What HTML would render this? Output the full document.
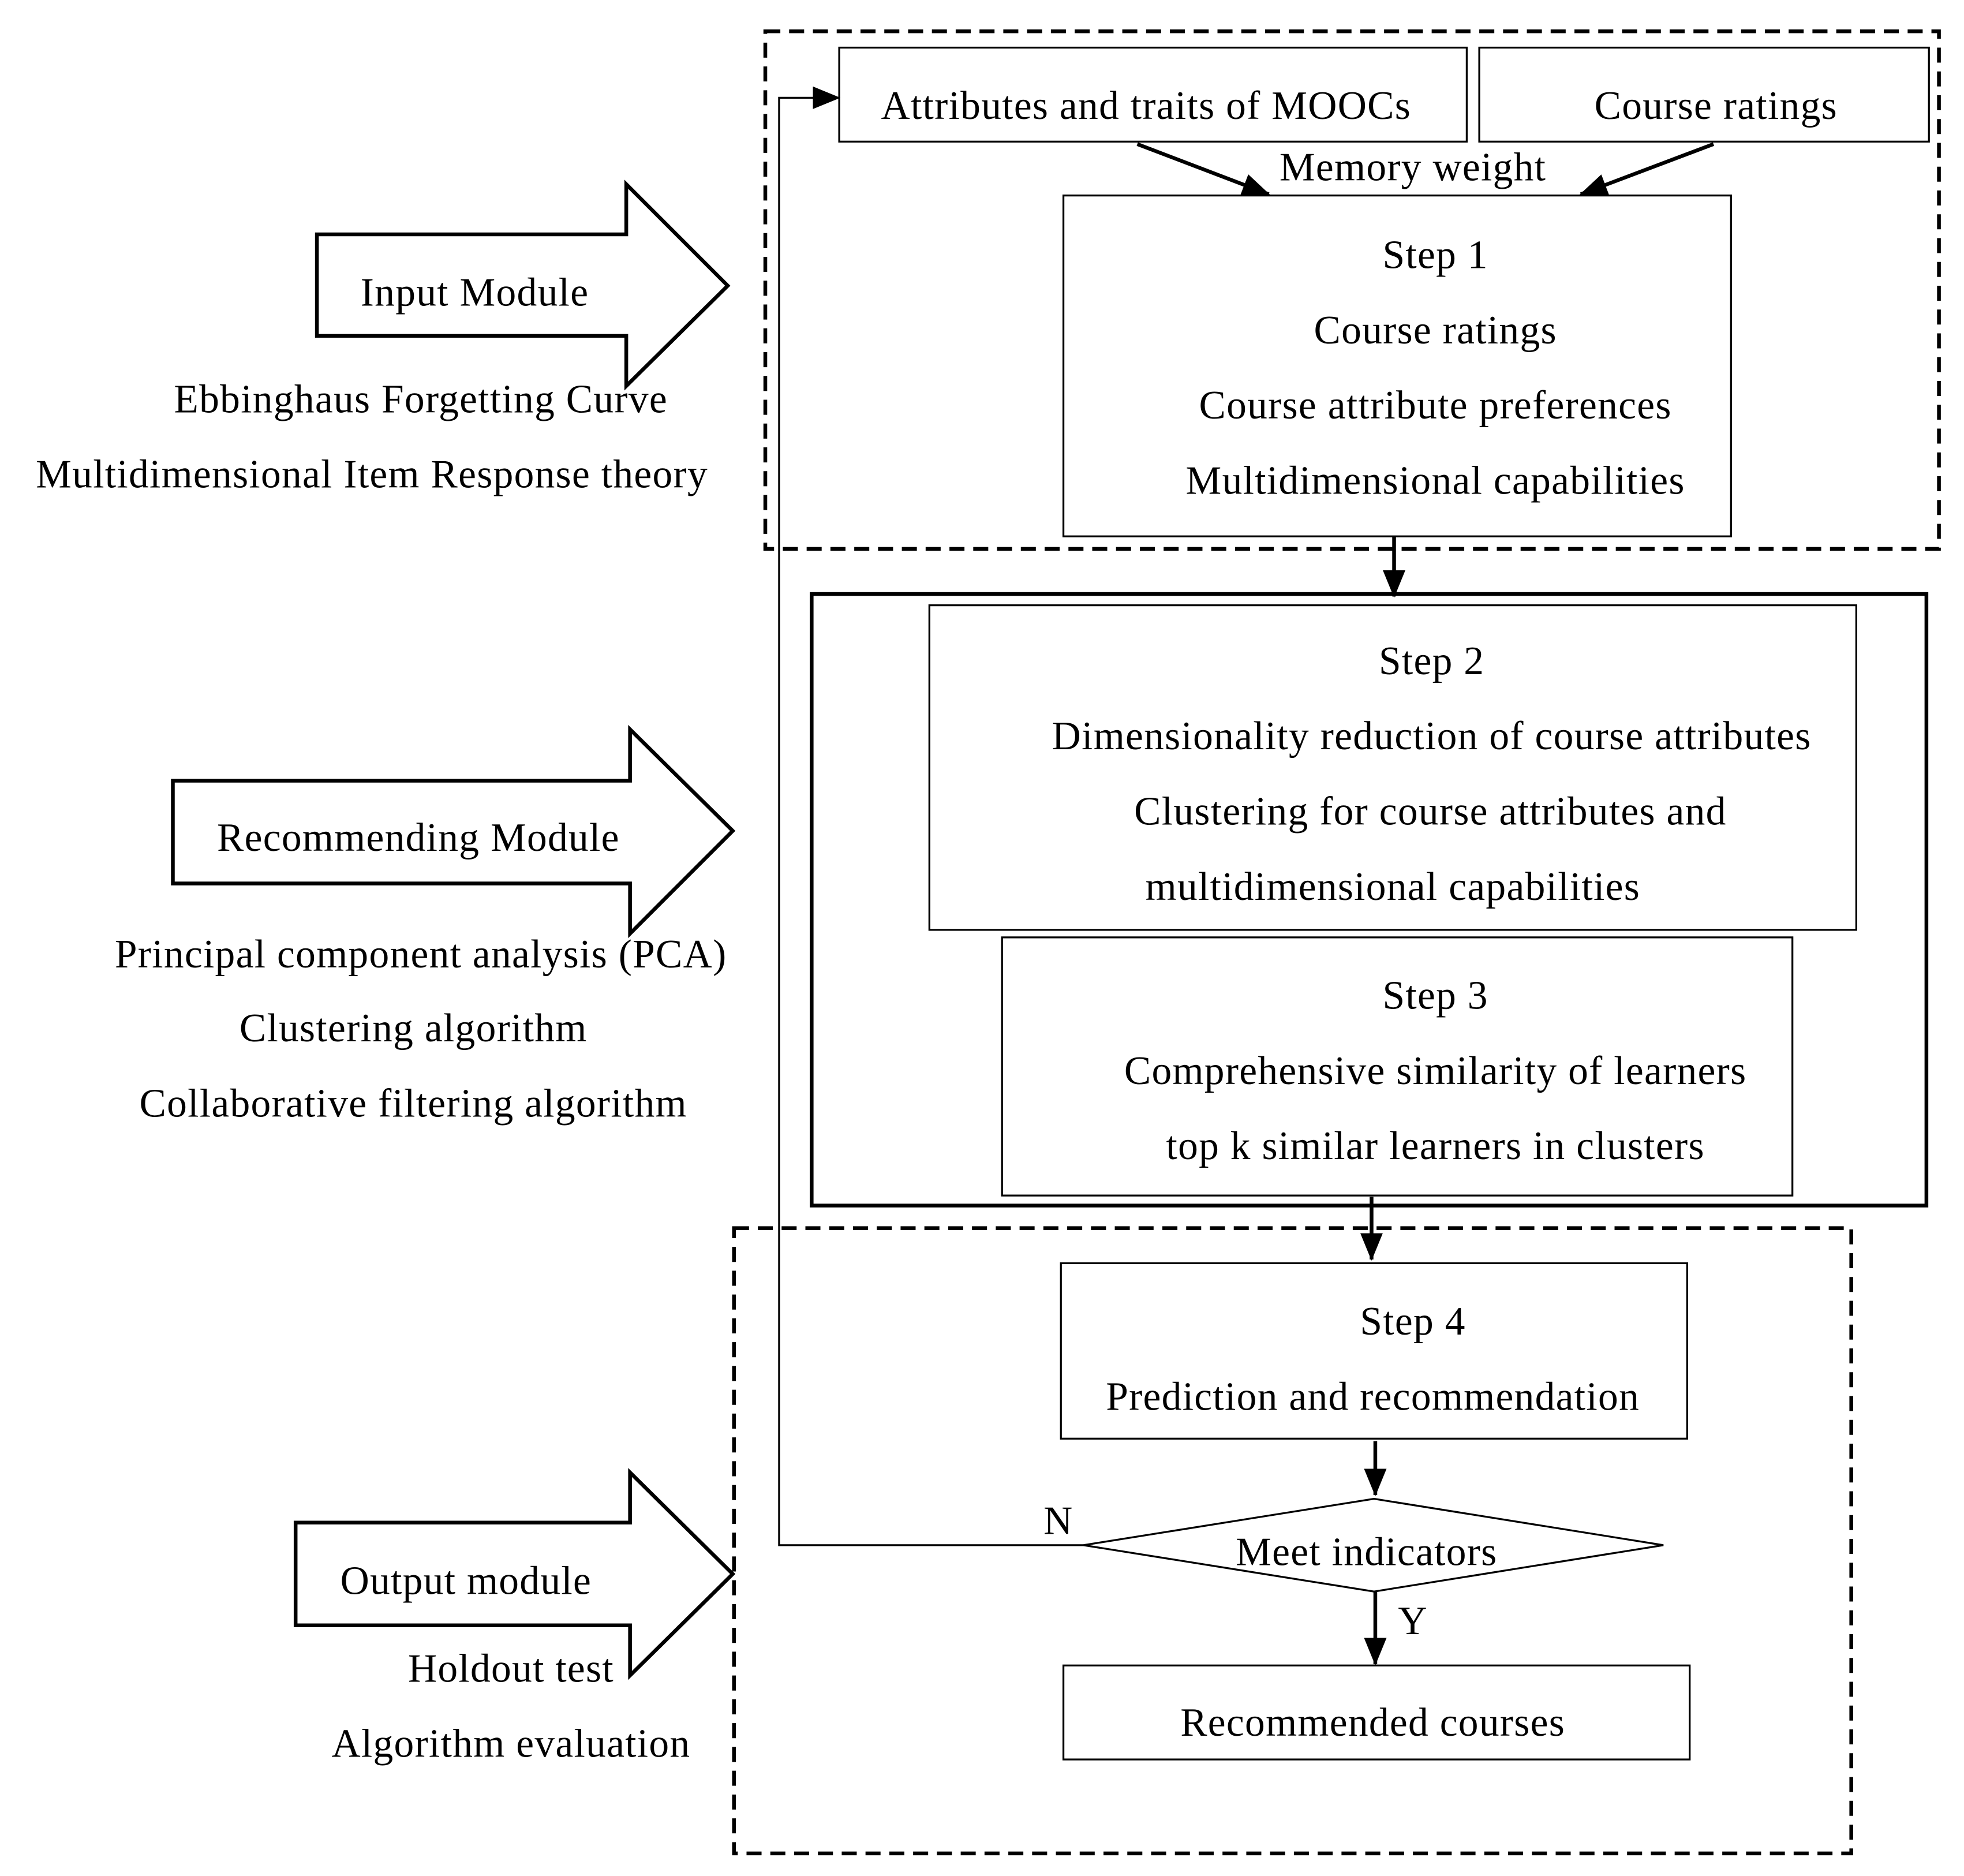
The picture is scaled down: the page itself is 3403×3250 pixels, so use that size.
<!DOCTYPE html>
<html><head><meta charset="utf-8"><style>
html,body{margin:0;padding:0;background:#fff;}
svg{display:block;}
text{font-family:"Liberation Serif",serif;font-size:32px;letter-spacing:0.6px;fill:#000;text-anchor:middle;}
</style></head><body>
<svg width="3403" height="3250" viewBox="0 0 1568 1497" preserveAspectRatio="none" xmlns="http://www.w3.org/2000/svg">
<defs>
<marker id="ah2" markerWidth="22" markerHeight="18" refX="21" refY="9" orient="auto" markerUnits="userSpaceOnUse">
<path d="M0,0 L22,9 L0,18 Z" fill="#000"/></marker>
</defs>
<g fill="none" stroke="#000">
<rect x="611" y="25" width="937" height="413" stroke-width="3" stroke-dasharray="12,7"/>
<rect x="586" y="980" width="892" height="499" stroke-width="3" stroke-dasharray="12,7"/>
<rect x="648" y="474" width="890" height="488" stroke-width="3"/>
<rect x="670" y="38" width="501" height="75" stroke-width="1.5"/>
<rect x="1181" y="38" width="359" height="75" stroke-width="1.5"/>
<rect x="849" y="156" width="533" height="272" stroke-width="1.5"/>
<rect x="742" y="483" width="740" height="259" stroke-width="1.5"/>
<rect x="800" y="748" width="631" height="206" stroke-width="1.5"/>
<rect x="847" y="1008" width="500" height="140" stroke-width="1.5"/>
<rect x="849" y="1329" width="500" height="75" stroke-width="1.5"/>
<path d="M865,1233 L1097,1196 L1328,1233 L1097,1270 Z" stroke-width="1.5"/>
<path d="M253,187 H500 V147 L581,228 L500,308 V268 H253 Z" stroke-width="3"/>
<path d="M138,623 H503 V582 L585,663 L503,745 V705 H138 Z" stroke-width="3"/>
<path d="M236,1215 H503 V1175 L585,1256 L503,1337 V1297 H236 Z" stroke-width="3"/>
<g stroke-width="3">
<line x1="908" y1="115" x2="1013" y2="155" marker-end="url(#ah2)"/>
<line x1="1368" y1="115" x2="1262" y2="155" marker-end="url(#ah2)"/>
<line x1="1113" y1="428" x2="1113" y2="476" marker-end="url(#ah2)"/>
<line x1="1095" y1="955" x2="1095" y2="1005" marker-end="url(#ah2)"/>
<line x1="1098" y1="1150" x2="1098" y2="1193" marker-end="url(#ah2)"/>
<line x1="1098" y1="1270" x2="1098" y2="1328" marker-end="url(#ah2)"/>
</g>
<polyline points="865,1233 622,1233 622,78 670,78" stroke-width="1.5" marker-end="url(#ah2)"/>
</g>
<text x="915" y="95">Attributes and traits of MOOCs</text>
<text x="1370" y="95">Course ratings</text>
<text x="1128" y="144">Memory weight</text>
<text x="1146" y="214">Step 1</text>
<text x="1146" y="274">Course ratings</text>
<text x="1146" y="334">Course attribute preferences</text>
<text x="1146" y="394">Multidimensional capabilities</text>
<text x="1143" y="538">Step 2</text>
<text x="1143" y="598">Dimensionality reduction of course attributes</text>
<text x="1142" y="658">Clustering for course attributes and</text>
<text x="1112" y="718">multidimensional capabilities</text>
<text x="1146" y="805">Step 3</text>
<text x="1146" y="865">Comprehensive similarity of learners</text>
<text x="1146" y="925">top k similar learners in clusters</text>
<text x="1128" y="1065">Step 4</text>
<text x="1096" y="1125">Prediction and recommendation</text>
<text x="1091" y="1249">Meet indicators</text>
<text x="845" y="1224">N</text>
<text x="1128" y="1304">Y</text>
<text x="1096" y="1385">Recommended courses</text>
<text x="379" y="244">Input Module</text>
<text x="336" y="329">Ebbinghaus Forgetting Curve</text>
<text x="297" y="389">Multidimensional Item Response theory</text>
<text x="334" y="679">Recommending Module</text>
<text x="336" y="772">Principal component analysis (PCA)</text>
<text x="330" y="831">Clustering algorithm</text>
<text x="330" y="891">Collaborative filtering algorithm</text>
<text x="372" y="1272">Output module</text>
<text x="408" y="1342">Holdout test</text>
<text x="408" y="1402">Algorithm evaluation</text>
</svg>
</body></html>
